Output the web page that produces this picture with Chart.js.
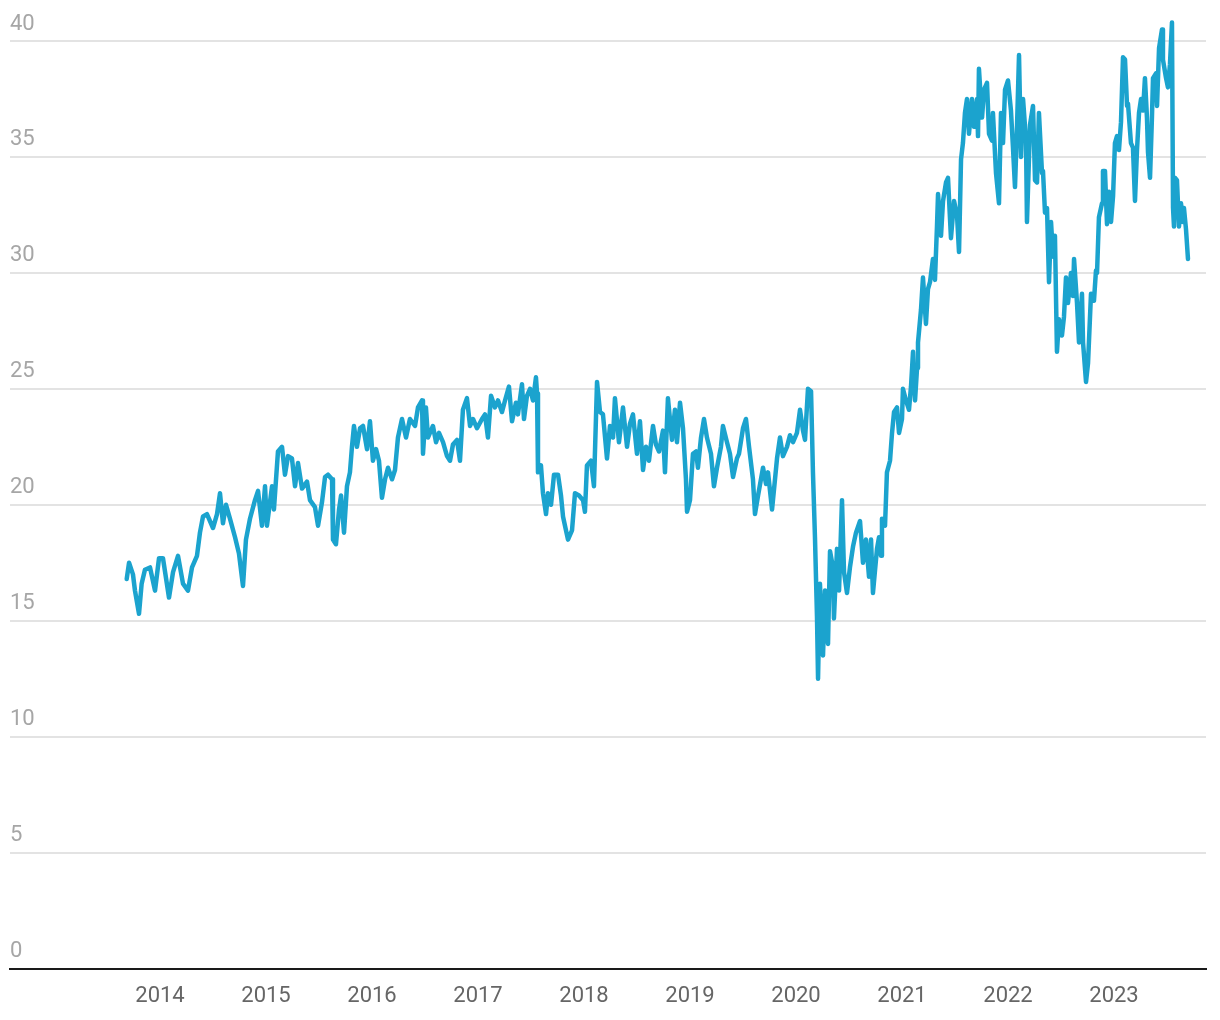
<!DOCTYPE html>
<html>
<head>
<meta charset="utf-8">
<script src="https://cdn.jsdelivr.net/npm/chart.js@4.4.1/dist/chart.umd.min.js"></script>
<style>
  html, body { margin: 0; padding: 0; background: #fff; }
  #chart { display: block; }
</style>
</head>
<body>
<canvas id="chart" width="1220" height="1020"></canvas>
<script>
// dates as decimal years, one line per calendar year
const dates = [
  2013.686, 2013.708, 2013.745, 2013.764, 2013.802, 2013.827, 2013.858, 2013.906, 2013.953, 2013.991,
  2014.028, 2014.085, 2014.123, 2014.170, 2014.217, 2014.264, 2014.302, 2014.349, 2014.377, 2014.406, 2014.443, 2014.500, 2014.538, 2014.566, 2014.594, 2014.623, 2014.660, 2014.708, 2014.745, 2014.783, 2014.811, 2014.849, 2014.896, 2014.925, 2014.962, 2014.991,
  2015.009, 2015.057, 2015.075, 2015.113, 2015.151, 2015.179, 2015.208, 2015.245, 2015.274, 2015.302, 2015.340, 2015.387, 2015.415, 2015.462, 2015.491, 2015.528, 2015.557, 2015.585, 2015.623, 2015.632, 2015.660, 2015.689, 2015.708, 2015.736, 2015.764, 2015.792, 2015.811, 2015.830, 2015.858, 2015.887, 2015.915, 2015.953, 2015.981,
  2016.009, 2016.038, 2016.066, 2016.094, 2016.123, 2016.151, 2016.189, 2016.217, 2016.245, 2016.283, 2016.321, 2016.358, 2016.406, 2016.434, 2016.472, 2016.481, 2016.509, 2016.528, 2016.575, 2016.604, 2016.632, 2016.670, 2016.708, 2016.736, 2016.764, 2016.802, 2016.830, 2016.858, 2016.896, 2016.925, 2016.953, 2016.991,
  2017.038, 2017.066, 2017.094, 2017.123, 2017.160, 2017.189, 2017.226, 2017.255, 2017.292, 2017.321, 2017.358, 2017.377, 2017.415, 2017.434, 2017.462, 2017.491, 2017.519, 2017.547, 2017.557, 2017.566, 2017.594, 2017.613, 2017.642, 2017.660, 2017.689, 2017.717, 2017.755, 2017.783, 2017.802, 2017.830, 2017.849, 2017.887, 2017.915, 2017.953, 2017.991,
  2018.009, 2018.028, 2018.066, 2018.094, 2018.123, 2018.151, 2018.179, 2018.217, 2018.245, 2018.274, 2018.292, 2018.330, 2018.368, 2018.406, 2018.434, 2018.462, 2018.500, 2018.528, 2018.557, 2018.585, 2018.613, 2018.651, 2018.679, 2018.708, 2018.745, 2018.764, 2018.792, 2018.830, 2018.858, 2018.877, 2018.906, 2018.934, 2018.962, 2018.972,
  2019.000, 2019.028, 2019.057, 2019.075, 2019.104, 2019.132, 2019.160, 2019.198, 2019.226, 2019.255, 2019.292, 2019.311, 2019.349, 2019.377, 2019.406, 2019.443, 2019.462, 2019.500, 2019.528, 2019.557, 2019.594, 2019.613, 2019.642, 2019.689, 2019.717, 2019.736, 2019.774, 2019.802, 2019.821, 2019.849, 2019.877, 2019.915, 2019.943, 2019.972,
  2020.009, 2020.038, 2020.066, 2020.085, 2020.113, 2020.142, 2020.160, 2020.179, 2020.198, 2020.208, 2020.226, 2020.255, 2020.274, 2020.302, 2020.321, 2020.349, 2020.358, 2020.387, 2020.406, 2020.434, 2020.453, 2020.481, 2020.509, 2020.538, 2020.566, 2020.604, 2020.632, 2020.660, 2020.689, 2020.708, 2020.726, 2020.764, 2020.783, 2020.802, 2020.811, 2020.840, 2020.858, 2020.887, 2020.906, 2020.925, 2020.953, 2020.972,
  2021.000, 2021.009, 2021.038, 2021.066, 2021.085, 2021.104, 2021.123, 2021.142, 2021.151, 2021.179, 2021.198, 2021.226, 2021.245, 2021.264, 2021.292, 2021.311, 2021.330, 2021.340, 2021.368, 2021.387, 2021.415, 2021.434, 2021.462, 2021.491, 2021.519, 2021.538, 2021.557, 2021.575, 2021.594, 2021.613, 2021.632, 2021.660, 2021.679, 2021.708, 2021.717, 2021.726, 2021.755, 2021.774, 2021.802, 2021.821, 2021.849, 2021.858, 2021.887, 2021.915, 2021.934, 2021.953, 2021.972,
  2022.000, 2022.028, 2022.047, 2022.066, 2022.085, 2022.104, 2022.123, 2022.142, 2022.170, 2022.179, 2022.208, 2022.236, 2022.255, 2022.274, 2022.292, 2022.321, 2022.330, 2022.349, 2022.368, 2022.387, 2022.406, 2022.425, 2022.443, 2022.462, 2022.481, 2022.509, 2022.528, 2022.547, 2022.566, 2022.594, 2022.613, 2022.623, 2022.651, 2022.670, 2022.698, 2022.708, 2022.736, 2022.755, 2022.783, 2022.811, 2022.830, 2022.840, 2022.858, 2022.887, 2022.896, 2022.915, 2022.934, 2022.953, 2022.972, 2022.991,
  2023.009, 2023.028, 2023.047, 2023.066, 2023.085, 2023.104, 2023.123, 2023.132, 2023.160, 2023.179, 2023.198, 2023.217, 2023.236, 2023.255, 2023.274, 2023.292, 2023.311, 2023.321, 2023.340, 2023.358, 2023.368, 2023.396, 2023.406, 2023.425, 2023.453, 2023.462, 2023.491, 2023.509, 2023.528, 2023.547, 2023.557, 2023.566, 2023.575, 2023.594, 2023.613, 2023.632, 2023.651, 2023.660, 2023.679, 2023.698
];

const prices = [
  16.8, 17.5, 17.0, 16.3, 15.3, 16.6, 17.2, 17.3, 16.3, 17.7,
  17.7, 16.0, 17.1, 17.8, 16.6, 16.3, 17.3, 17.8, 18.8, 19.5, 19.6, 19.0, 19.6, 20.5, 19.2, 20.0, 19.4, 18.6, 17.9, 16.5, 18.5, 19.4, 20.2, 20.6, 19.1, 20.8,
  19.1, 20.8, 19.8, 22.3, 22.5, 21.3, 22.1, 22.0, 20.8, 21.8, 20.7, 21.0, 20.2, 19.9, 19.1, 20.1, 21.2, 21.3, 21.1, 18.5, 18.3, 19.8, 20.4, 18.8, 20.8, 21.4, 22.5, 23.4, 22.5, 23.3, 23.4, 22.4, 23.6,
  21.9, 22.4, 21.9, 20.3, 21.1, 21.6, 21.1, 21.5, 22.9, 23.7, 22.9, 23.7, 23.4, 24.2, 24.5, 22.2, 24.2, 22.9, 23.4, 22.7, 23.1, 22.7, 22.1, 21.9, 22.6, 22.8, 21.9, 24.1, 24.6, 23.4, 23.7, 23.3,
  23.7, 23.9, 22.9, 24.7, 24.2, 24.5, 24.0, 24.5, 25.1, 23.6, 24.4, 23.9, 25.2, 23.7, 24.7, 25.0, 24.5, 25.5, 24.8, 21.4, 21.7, 20.5, 19.6, 20.5, 20.0, 21.3, 21.3, 20.4, 19.5, 18.9, 18.5, 18.9, 20.5, 20.4, 20.2,
  19.7, 21.7, 21.9, 20.8, 25.3, 24.0, 23.9, 22.0, 23.4, 22.9, 24.6, 22.7, 24.2, 22.5, 23.5, 23.9, 22.2, 23.6, 21.5, 22.5, 21.9, 23.4, 22.6, 22.3, 23.2, 21.4, 24.6, 22.8, 24.1, 22.7, 24.4, 23.3, 21.1, 19.7,
  20.2, 22.2, 22.3, 21.6, 22.9, 23.7, 22.9, 22.2, 20.8, 21.6, 22.5, 23.4, 22.7, 22.2, 21.2, 22.0, 22.2, 23.3, 23.7, 22.5, 21.1, 19.6, 20.4, 21.6, 20.9, 21.4, 19.8, 21.1, 22.0, 22.9, 22.1, 22.5, 23.0, 22.7,
  23.1, 24.1, 23.2, 22.8, 25.0, 24.9, 21.4, 18.6, 15.2, 12.5, 16.6, 13.5, 16.3, 14.0, 18.0, 17.3, 15.1, 18.1, 16.3, 20.2, 17.1, 16.2, 17.3, 18.2, 18.8, 19.3, 17.5, 18.5, 16.9, 18.5, 16.2, 18.1, 18.6, 17.8, 19.4, 19.1, 21.4, 21.9, 23.1, 24.0, 24.2, 23.1,
  23.7, 25.0, 24.5, 24.1, 25.1, 26.6, 24.5, 25.9, 27.0, 28.4, 29.8, 27.8, 29.3, 29.6, 30.6, 29.7, 32.0, 33.4, 31.6, 33.1, 33.9, 34.1, 31.5, 33.1, 32.5, 30.9, 34.9, 35.6, 36.9, 37.5, 36.0, 37.5, 36.3, 37.5, 35.9, 38.8, 36.7, 37.9, 38.2, 36.0, 35.7, 36.9, 34.3, 33.0, 36.9, 35.6, 37.9,
  38.3, 37.0, 35.4, 33.7, 36.3, 39.4, 35.0, 37.5, 35.7, 32.2, 36.4, 37.2, 34.0, 33.9, 36.9, 34.3, 34.4, 32.6, 32.8, 29.6, 32.2, 30.7, 31.6, 26.6, 28.0, 27.3, 28.1, 29.8, 28.7, 30.0, 29.0, 30.6, 28.7, 27.0, 29.1, 27.0, 25.3, 26.1, 29.1, 28.8, 30.1, 30.0, 32.4, 33.0, 34.4, 34.4, 32.1, 33.5, 32.2, 33.3,
  35.6, 35.9, 35.3, 36.5, 39.3, 39.2, 37.2, 37.3, 35.6, 35.4, 33.1, 35.3, 36.9, 37.5, 37.0, 38.4, 36.7, 35.2, 34.1, 36.7, 38.4, 38.6, 37.2, 39.7, 40.5, 39.2, 38.4, 38.0, 39.0, 40.8, 32.8, 32.0, 34.1, 34.0, 32.0, 33.0, 32.2, 32.8, 31.9, 30.6
];

const yearTicks = [2014, 2015, 2016, 2017, 2018, 2019, 2020, 2021, 2022, 2023];
const valueTicks = [0, 5, 10, 15, 20, 25, 30, 35, 40];

const points = dates.map((d, i) => ({ x: d, y: prices[i] }));

const ctx = document.getElementById("chart").getContext("2d");
new Chart(ctx, {
  type: "line",
  data: {
    datasets: [
      {
        data: points,
        borderColor: "#1ba3ce",
        borderWidth: 4.5,
        pointRadius: 0,
        tension: 0,
        borderJoinStyle: "round",
        borderCapStyle: "round",
      },
    ],
  },
  options: {
    responsive: false,
    animation: false,
    devicePixelRatio: 1,
    layout: { padding: { left: 10, right: 14, top: 3, bottom: -5 } },
    plugins: {
      legend: { display: false },
      tooltip: { enabled: false },
    },
    scales: {
      x: {
        type: "linear",
        min: 2012.585,
        max: 2023.868,
        afterBuildTicks: (scale) => {
          scale.ticks = yearTicks.map((v) => ({ value: v }));
        },
        grid: { color: "rgba(0,0,0,0)", drawTicks: false },
        border: { display: true, color: "#1a1a1a", width: 2 },
        ticks: {
          callback: (v) => String(v),
          font: { family: "Roboto", size: 22 },
          color: "#666666",
          padding: 15,
          maxRotation: 0,
          autoSkip: false,
        },
      },
      y: {
        min: 0,
        max: 41.2,
        afterBuildTicks: (scale) => {
          scale.ticks = valueTicks.map((v) => ({ value: v }));
        },
        grid: { color: "#e3e3e3", lineWidth: 2, drawTicks: false },
        border: { display: false },
        ticks: {
          mirror: true,
          padding: 0,
          labelOffset: -17,
          font: { family: "Roboto", size: 22 },
          color: "#a6a6a6",
        },
      },
    },
  },
});
</script>
</body>
</html>
